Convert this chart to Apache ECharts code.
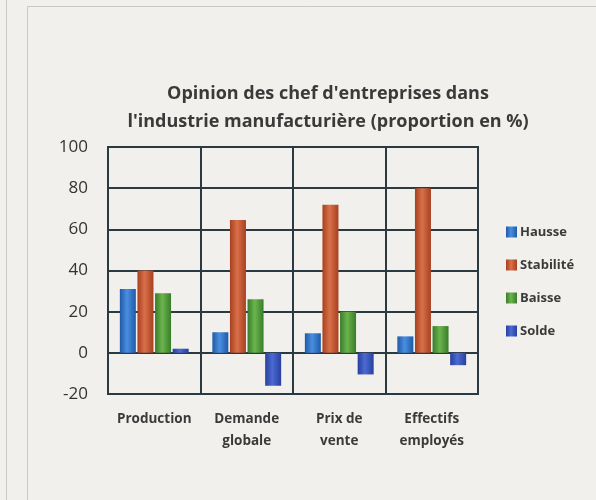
<!DOCTYPE html>
<html>
<head>
<meta charset="utf-8">
<script src="https://cdn.jsdelivr.net/npm/echarts@6/dist/echarts.min.js"></script>
<style>
html,body{margin:0;padding:0;background:#f1f0ec;}
#c{width:596px;height:500px;}
</style>
</head>
<body>
<div id="c"></div>
<script>
const categories = ['Production', 'Demande\nglobale', 'Prix de\nvente', 'Effectifs\nemployés'];
const hausse = [31, 10, 9.5, 8];
const stabilite = [40, 64.5, 72, 80];
const baisse = [29, 26, 20, 13];
const solde = [2, -16, -10.5, -6];
const yTicks = [-20, 0, 20, 40, 60, 80, 100];

const chart = echarts.init(document.getElementById('c'));
function grad(dark, light) {
  return new echarts.graphic.LinearGradient(0, 0, 1, 0, [
    {offset: 0, color: dark}, {offset: 0.45, color: light}, {offset: 1, color: dark}
  ]);
}
const font = '"Open Sans", "DejaVu Sans", sans-serif';
function bar(name, data, dark, light) {
  return {
    name: name, type: 'bar', data: data, barWidth: 16, barGap: '10%',
    itemStyle: {color: grad(dark, light)}
  };
}
chart.setOption({
  backgroundColor: '#f1f0ec',
  animation: false,
  textStyle: {fontFamily: font},
  graphic: [
    {type: 'line', shape: {x1: 6.5, y1: 0, x2: 6.5, y2: 500}, style: {stroke: '#c9c8c3', lineWidth: 1}},
    {type: 'line', shape: {x1: 27.5, y1: 6.5, x2: 27.5, y2: 500}, style: {stroke: '#c9c8c3', lineWidth: 1}},
    {type: 'line', shape: {x1: 27.5, y1: 6.5, x2: 596, y2: 6.5}, style: {stroke: '#c9c8c3', lineWidth: 1}}
  ],
  title: {
    text: "Opinion des chef d'entreprises dans\nl'industrie manufacturière (proportion en %)",
    left: 323, textAlign: 'center', top: 75,
    textStyle: {fontFamily: font, fontSize: 18, fontWeight: 'bold', color: '#3a3a3a', lineHeight: 28}
  },
  legend: {
    orient: 'vertical', left: 501, top: 220, itemWidth: 11, itemHeight: 11, itemGap: 19,
    icon: 'rect',
    textStyle: {fontFamily: font, fontSize: 13, fontWeight: 'bold', color: '#3a3a3a', lineHeight: 14, padding: [0, 0, 0, -2]},
    data: ['Hausse', 'Stabilité', 'Baisse', 'Solde']
  },
  grid: {left: 108, right: 118, top: 147, bottom: 106, show: true, borderColor: '#2b3a40', borderWidth: 2, backgroundColor: 'transparent'},
  xAxis: {
    type: 'category', data: categories,
    axisLine: {show: false}, axisTick: {show: false},
    splitLine: {show: true, lineStyle: {color: '#2b3a40', width: 2}},
    axisLabel: {fontFamily: font, fontSize: 13.5, fontWeight: 'bold', color: '#3a3a3a', lineHeight: 22, margin: 14, interval: 0}
  },
  yAxis: {
    type: 'value', min: yTicks[0], max: yTicks[yTicks.length - 1], interval: 20,
    axisLine: {show: false}, axisTick: {show: false},
    splitLine: {show: true, lineStyle: {color: '#2b3a40', width: 2}},
    axisLabel: {fontFamily: font, fontSize: 17, color: '#333', margin: 20}
  },
  series: [
    bar('Hausse', hausse, '#1f5aa8', '#4a8ee0'),
    bar('Stabilité', stabilite, '#a8401f', '#d8704a'),
    bar('Baisse', baisse, '#377d2a', '#6cb44e'),
    bar('Solde', solde, '#2640a0', '#4d6ad0')
  ]
});
</script>
</body>
</html>
